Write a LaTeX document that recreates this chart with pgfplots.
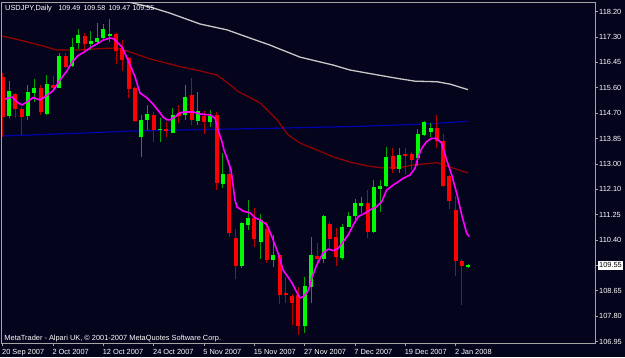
\documentclass[border=0pt]{standalone}
\usepackage{pgfplots}
\pgfplotsset{compat=1.18}
\usepackage{pgfplotstable}
\usepackage{fontspec}
\setmainfont{Liberation Sans}
\definecolor{bg}{RGB}{4,4,28}
\definecolor{bull}{RGB}{0,250,0}
\definecolor{bear}{RGB}{255,0,0}
\definecolor{bullwick}{RGB}{0,165,0}
\definecolor{bearwick}{RGB}{185,0,0}
\definecolor{maM}{RGB}{255,0,255}
\definecolor{maR}{RGB}{150,0,0}
\definecolor{maB}{RGB}{0,0,175}
\definecolor{maG}{RGB}{200,200,200}
\definecolor{frame}{RGB}{165,165,165}
\setlength{\fboxsep}{1.5pt}
\newcommand{\mtfont}{\fontsize{7.4}{8.5}\selectfont}
\newcommand{\numfont}{\fontsize{7.1}{8.5}\selectfont}

% bar index, open, high, low, close
\pgfplotstableread{
i o h l c
1 114.64 115.84 114.57 115.50
4 114.65 115.70 114.51 115.45
5 115.42 115.90 115.11 115.61
7 114.71 116.04 114.68 115.73
9 115.61 116.80 115.59 116.70
11 116.35 117.29 116.31 116.99
12 117.14 117.61 116.92 117.40
14 117.10 117.54 116.89 117.21
15 117.16 117.80 117.12 117.29
16 117.29 117.77 117.27 117.61
17 117.38 117.95 117.18 117.43
22 113.94 114.68 113.26 114.51
23 114.51 115.02 114.17 114.71
25 114.15 114.57 113.77 114.18
27 114.07 114.91 114.05 114.68
29 114.68 115.70 114.51 115.30
31 114.48 115.46 114.34 114.81
33 114.45 114.85 114.27 114.64
35 112.32 113.38 112.18 112.68
38 109.51 111.03 109.45 110.98
39 110.94 111.78 110.76 111.18
41 110.36 111.30 109.77 111.10
43 109.73 110.59 109.50 109.90
48 107.48 109.15 107.25 108.85
49 108.82 110.52 108.25 109.90
51 109.77 111.27 109.63 111.23
54 109.81 110.95 109.72 110.87
55 110.87 111.38 110.84 111.23
56 111.23 111.80 111.10 111.69
57 111.57 111.87 111.33 111.67
59 110.70 112.46 110.66 112.21
60 112.16 112.46 111.38 112.27
61 112.26 113.58 112.23 113.26
63 112.83 113.55 112.71 113.31
66 113.20 114.20 112.94 114.03
67 114.00 114.47 113.96 114.45
68 114.11 114.39 113.94 114.22
74 109.49 109.58 109.47 109.55
}\bulltab

\pgfplotstableread{
i o h l c
0 115.97 116.11 113.93 114.61
2 115.38 115.43 114.57 114.88
3 114.88 114.95 114.00 114.62
6 115.61 115.70 114.68 114.79
8 115.70 116.02 115.53 115.61
10 116.68 116.78 116.27 116.31
13 117.38 117.46 116.86 117.10
18 117.44 117.47 116.41 116.86
19 116.95 117.23 116.18 116.55
20 116.61 116.64 115.25 115.56
21 115.61 115.63 114.44 114.47
24 114.68 114.79 113.77 114.17
26 114.19 114.45 113.92 114.14
28 114.75 115.02 114.39 114.64
30 115.36 115.93 114.34 114.51
32 114.64 114.81 114.03 114.45
34 114.68 114.79 112.12 112.37
36 112.67 112.90 110.52 110.66
37 110.47 110.78 109.09 109.51
40 111.18 111.51 110.19 110.45
42 110.79 111.04 109.63 109.73
44 109.90 109.97 108.23 108.54
45 108.59 109.15 108.27 108.54
46 108.51 108.57 107.52 108.26
47 108.54 108.80 107.18 107.48
50 109.88 110.30 109.56 109.77
52 110.96 111.03 110.10 110.43
53 110.51 110.81 109.53 109.83
58 111.67 112.12 110.47 110.70
62 113.29 113.55 112.71 112.83
64 113.34 113.55 112.66 113.29
65 113.34 113.43 112.80 113.14
69 114.22 114.68 113.54 113.80
70 113.80 114.03 112.22 112.26
71 112.60 112.63 111.47 111.76
72 111.44 111.92 109.20 109.71
73 109.71 109.75 108.20 109.51
}\beartab

\begin{document}
\begin{tikzpicture}[x=1pt,y=1pt]
\useasboundingbox (0,0) rectangle (625,357);
\fill[bg] (0,0) rectangle (625,357);
\begin{axis}[
  at={(2pt,14pt)}, anchor=south west,
  scale only axis, width=593pt, height=341pt,
  xmin=-0.13, xmax=94.15, ymin=106.90, ymax=118.53,
  axis line style={draw=frame, line width=1pt},
  tick align=outside, major tick length=3pt,
  tick style={draw=frame, line width=0.8pt},
  xtick pos=lower, ytick pos=right, yticklabel pos=right,
  /pgf/number format/assume math mode=true,
  ticklabel style={font=\mtfont, text=white},
  xtick={0,8,16,24,32,40,48,56,64,72},
  xticklabels={20 Sep 2007, 2 Oct 2007, 12 Oct 2007, 24 Oct 2007, 5 Nov 2007, 15 Nov 2007, 27 Nov 2007, 7 Dec 2007, 19 Dec 2007, 2 Jan 2008},
  xticklabel style={anchor=north west, inner sep=0pt, xshift=-0.8pt, yshift=-2.8pt},
  ytick={106.95,107.8154,108.6808,109.5462,110.4115,111.2769,112.1423,113.0077,113.8731,114.7385,115.6038,116.4692,117.3346,118.2},
  yticklabels={106.95,107.80,108.65,{\kern-1.5pt\colorbox{white}{\textcolor{black}{109.55}}},110.40,111.25,112.10,113.00,113.85,114.70,115.60,116.45,117.30,118.20},
  yticklabel style={anchor=west, inner sep=0pt, xshift=1pt},
]
% moving averages
\addplot[maG, line width=1.3pt, mark=none] coordinates {
(18.6,118.67) (19.75,118.54) (23.4,118.36) (26.58,118.15) (31.35,117.78) (35.64,117.58) (39.3,117.30) (42.48,117.06) (47.25,116.65) (52.5,116.38) (55.2,116.21) (60.44,116.01) (63.15,115.91) (65.53,115.83) (69.03,115.81) (71.1,115.73) (73.96,115.54)};
\addplot[maB, line width=1.2pt, mark=none] coordinates {
(-0.13,113.96) (11.48,114.05) (20.7,114.13) (31.35,114.18) (42.48,114.22) (50.43,114.26) (56.8,114.29) (64.74,114.35) (69.51,114.40) (73.96,114.46)};
\addplot[maR, line width=1.2pt, mark=none] coordinates {
(-0.13,117.37) (2.73,117.23) (6.39,117.03) (8.62,116.89) (11.48,116.89) (15.45,116.94) (17.84,116.96) (19.75,116.86) (23.4,116.59) (27.7,116.35) (31.35,116.18) (34.05,116.04) (36.6,115.63) (37.23,115.50) (40.89,115.09) (43.6,114.51) (45.34,114.00) (47.25,113.72) (49.95,113.48) (52.5,113.25) (55.2,113.07) (57.9,112.94) (60.44,112.87) (63.15,112.88) (65.21,112.97) (69.03,113.05) (71.1,112.90) (73.96,112.70)};
% candles: wicks
\addplot[bullwick, line width=1pt, mark=none, quiver={u=0, v=\thisrow{h}-\thisrow{l}}] table[x=i, y=l] {\bulltab};
\addplot[bearwick, line width=1pt, mark=none, quiver={u=0, v=\thisrow{h}-\thisrow{l}}] table[x=i, y=l] {\beartab};
% candles: bodies
\addplot[bull, line width=4pt, mark=none, quiver={u=0, v={max(abs(\thisrow{c}-\thisrow{o}),0.035)}}] table[x=i, y expr={min(\thisrow{o},\thisrow{c})}] {\bulltab};
\addplot[bear, line width=4pt, mark=none, quiver={u=0, v={max(abs(\thisrow{c}-\thisrow{o}),0.035)}}] table[x=i, y expr={min(\thisrow{o},\thisrow{c})}] {\beartab};
% fast MA
\addplot[maM, line width=1.6pt, mark=none] coordinates {
(0.35,115.22) (1.46,115.29) (2.42,115.09) (3.05,115.02) (3.85,115.12) (4.80,115.27) (5.91,115.19) (6.71,115.30) (7.98,115.50) (9.09,115.87) (10.2,116.18) (11.0,116.48) (11.96,116.70) (13.07,116.84) (14.18,117.01) (14.98,117.10) (15.93,117.23) (17.04,117.30) (17.68,117.27) (18.95,116.99) (19.9,116.55) (21.02,115.98) (21.81,115.43) (22.93,115.26) (23.88,115.05) (24.99,114.75) (25.47,114.61) (26.1,114.51) (26.58,114.51) (27.38,114.61) (28.17,114.75) (28.97,114.78) (30.24,114.78) (31.35,114.71) (32.94,114.68) (33.74,114.57) (34.21,114.17) (34.85,113.76) (35.17,113.48) (35.64,113.21) (36.28,112.80) (36.60,112.29) (36.91,111.78) (37.23,111.54) (38.19,111.40) (39.30,111.34) (40.1,111.17) (40.89,111.10) (42.0,110.93) (42.79,110.52) (43.75,109.97) (44.55,109.39) (45.34,109.15) (45.98,108.95) (46.77,108.61) (47.25,108.44) (47.73,108.48) (48.36,108.61) (48.84,108.85) (49.1,109.11) (49.9,109.56) (50.95,109.98) (51.75,110.10) (52.54,110.05) (53.34,110.13) (54.13,110.36) (54.93,110.59) (55.72,110.93) (56.52,111.21) (57.58,111.33) (58.38,111.44) (59.44,111.55) (60.24,111.72) (61.03,112.12) (62.08,112.29) (62.88,112.40) (63.67,112.52) (64.74,112.63) (65.53,112.86) (66.06,113.26) (66.6,113.54) (67.39,113.77) (68.19,113.88) (68.98,113.88) (69.78,113.71) (70.57,113.14) (71.37,112.63) (72.16,112.01) (72.96,111.27) (73.75,110.64) (74.17,110.53)};
\end{axis}
\node[anchor=base west, inner sep=0pt, text=white, font=\mtfont] at (5,346) {USDJPY,Daily};
\node[anchor=base west, inner sep=0pt, text=white, font=\numfont] at (58.3,346) {109.49};
\node[anchor=base west, inner sep=0pt, text=white, font=\numfont] at (83.3,346) {109.58};
\node[anchor=base west, inner sep=0pt, text=white, font=\numfont] at (108.3,346) {109.47};
\node[anchor=base west, inner sep=0pt, text=white, font=\numfont] at (132.3,346) {109.55};
\node[anchor=base west, inner sep=0pt, text=white, font=\mtfont] at (4.3,16.5) {MetaTrader - Alpari UK, © 2001-2007 MetaQuotes Software Corp.};
\end{tikzpicture}
\end{document}
